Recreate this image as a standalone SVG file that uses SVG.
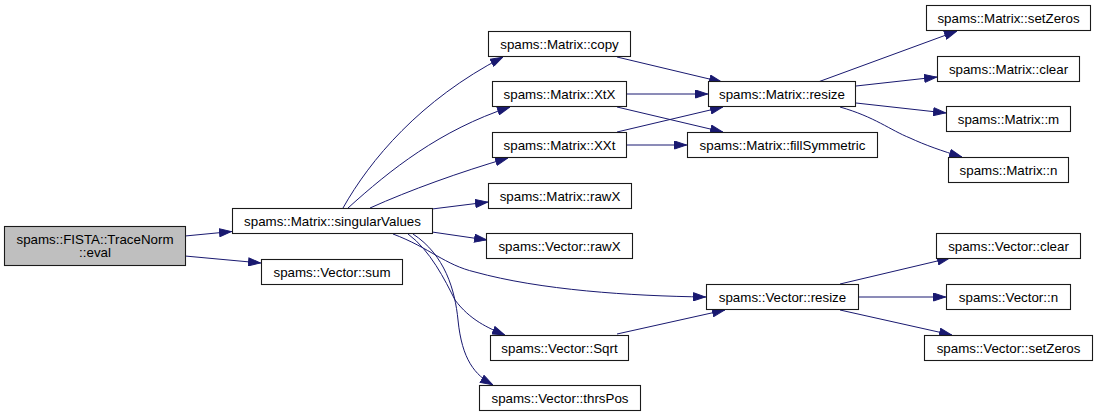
<svg xmlns="http://www.w3.org/2000/svg" width="1097" height="417" viewBox="0 0 1097 417">
<style>
.n rect{fill:#ffffff;stroke:#1a1a1a;stroke-width:1.1}
.n.cur rect{fill:#bfbfbf}
.n text{font-family:"Liberation Sans",Arial,sans-serif;font-size:13.33px;fill:#000000;text-anchor:middle}
.e path{fill:none;stroke:#191970;stroke-width:1;marker-end:url(#ah)}
</style>
<defs>
<marker id="ah" viewBox="0 0 13 9" refX="13" refY="4.5" markerWidth="13" markerHeight="9" markerUnits="userSpaceOnUse" orient="auto">
<path d="M0.5,0.5 L12.5,4.5 L0.5,8.5 z" fill="#191970" stroke="#191970" stroke-width="1"/>
</marker>
</defs>
<rect width="1097" height="417" fill="#ffffff"/>
<g id="edges" class="e">
<path d="M185,236 L232,231.5"/>
<path d="M185,256 L261,263"/>
<path d="M343,208 C370,160 420,100 503,57"/>
<path d="M348,208 C390,170 440,130 510,107"/>
<path d="M370,208 C410,190 460,172 508,158"/>
<path d="M432,209 L488,202"/>
<path d="M432,232 L487,240"/>
<path d="M393,234 C430,248 445,265 475,272 C540,290 630,296 706,297"/>
<path d="M408,234 C430,250 445,280 455,300 C470,320 488,328 505,335"/>
<path d="M413,234 C445,255 455,290 458,320 C462,360 475,375 493,385"/>
<path d="M617,57 L722,82"/>
<path d="M627,94 L708,94"/>
<path d="M617,107 L723,132"/>
<path d="M617,132 L723,107"/>
<path d="M627,145 L687,145"/>
<path d="M818,82 L957,31"/>
<path d="M856,86 L937,77"/>
<path d="M856,103 L946,113"/>
<path d="M840,107 C875,117 890,130 910,138 C925,145 942,151 962,157"/>
<path d="M840,284 L950,258"/>
<path d="M858,297 L946,297"/>
<path d="M840,310 L952,335"/>
<path d="M617,334 L725,310"/>
</g>
<g id="node_eval" class="n cur"><rect x="4.5" y="226.5" width="181" height="39"/><text x="95" y="243.5">spams::FISTA::TraceNorm</text><text x="95" y="257">::eval</text></g>
<g id="node_singularValues" class="n"><rect x="232.5" y="208.5" width="200" height="25"/><text x="332.5" y="225.5">spams::Matrix::singularValues</text></g>
<g id="node_vsum" class="n"><rect x="261.5" y="259.5" width="141" height="25"/><text x="332" y="276.5">spams::Vector::sum</text></g>
<g id="node_mcopy" class="n"><rect x="488.5" y="31.5" width="142" height="25"/><text x="559.5" y="48.5">spams::Matrix::copy</text></g>
<g id="node_mxtx" class="n"><rect x="492.5" y="81.5" width="134" height="25"/><text x="559.5" y="98.5">spams::Matrix::XtX</text></g>
<g id="node_mxxt" class="n"><rect x="492.5" y="132.5" width="134" height="25"/><text x="559.5" y="149.5">spams::Matrix::XXt</text></g>
<g id="node_mrawx" class="n"><rect x="488.5" y="183.5" width="143" height="25"/><text x="560" y="200.5">spams::Matrix::rawX</text></g>
<g id="node_vrawx" class="n"><rect x="486.5" y="233.5" width="146" height="25"/><text x="559.5" y="250.5">spams::Vector::rawX</text></g>
<g id="node_vsqrt" class="n"><rect x="490.5" y="335.5" width="138" height="25"/><text x="559.5" y="352.5">spams::Vector::Sqrt</text></g>
<g id="node_vthrspos" class="n"><rect x="479.5" y="385.5" width="161" height="25"/><text x="560" y="402.5">spams::Vector::thrsPos</text></g>
<g id="node_mresize" class="n"><rect x="708.5" y="81.5" width="147" height="25"/><text x="782" y="98.5">spams::Matrix::resize</text></g>
<g id="node_mfill" class="n"><rect x="687.5" y="132.5" width="190" height="25"/><text x="782.5" y="149.5">spams::Matrix::fillSymmetric</text></g>
<g id="node_vresize" class="n"><rect x="706.5" y="284.5" width="152" height="25"/><text x="782.5" y="301.5">spams::Vector::resize</text></g>
<g id="node_msetzeros" class="n"><rect x="926.5" y="5.5" width="164" height="25"/><text x="1008.5" y="22.5">spams::Matrix::setZeros</text></g>
<g id="node_mclear" class="n"><rect x="937.5" y="56.5" width="142" height="25"/><text x="1008.5" y="73.5">spams::Matrix::clear</text></g>
<g id="node_mm" class="n"><rect x="946.5" y="106.5" width="124" height="25"/><text x="1008.5" y="123.5">spams::Matrix::m</text></g>
<g id="node_mn" class="n"><rect x="948.5" y="157.5" width="120" height="25"/><text x="1008.5" y="174.5">spams::Matrix::n</text></g>
<g id="node_vclear" class="n"><rect x="936.5" y="233.5" width="144" height="25"/><text x="1008.5" y="250.5">spams::Vector::clear</text></g>
<g id="node_vn" class="n"><rect x="946.5" y="284.5" width="124" height="25"/><text x="1008.5" y="301.5">spams::Vector::n</text></g>
<g id="node_vsetzeros" class="n"><rect x="924.5" y="335.5" width="168" height="25"/><text x="1008.5" y="352.5">spams::Vector::setZeros</text></g>
</svg>
